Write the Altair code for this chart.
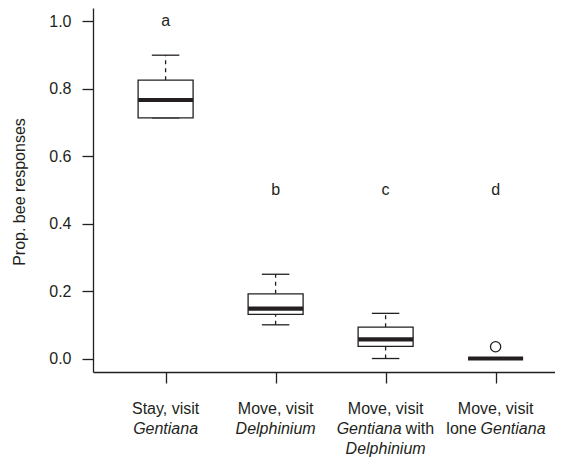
import altair as alt
import pandas as pd

# ---------------- data ----------------
positions = [1, 2, 3, 4]
whisker_low = [0.714, 0.100, 0.000, 0.000]
q1 = [0.714, 0.131, 0.036, 0.000]
median = [0.767, 0.148, 0.057, 0.000]
q3 = [0.826, 0.192, 0.093, 0.000]
whisker_high = [0.900, 0.250, 0.134, 0.000]

outlier_pos = [4]
outlier_val = [0.035]

letters = ["a", "b", "c", "d"]
letter_y = [1.0, 0.5, 0.5, 0.5]

y_ticks = [0.0, 0.2, 0.4, 0.6, 0.8, 1.0]

# x-axis label pieces (category, line, text, italic, anchor, pixel shift)
label_pos = [1, 1, 2, 2, 3, 3, 3, 3, 4, 4, 4]
label_line = [0, 1, 0, 1, 0, 1, 1, 2, 0, 1, 1]
label_text = ["Stay, visit", "Gentiana", "Move, visit", "Delphinium",
              "Move, visit", "Gentiana", "with", "Delphinium",
              "Move, visit", "lone", "Gentiana"]
label_italic = [False, True, False, True, False, True, False, True, False, False, True]
label_anchor = ["center", "center", "center", "center", "center", "right", "left",
                "center", "center", "right", "left"]
label_dx = [0, 0, 0, 0, 0, 16, 20, 0, 0, -19, -15]

INK = "#231f20"
FONT = "Liberation Sans"

boxes = pd.DataFrame({"pos": positions, "low": whisker_low, "q1": q1,
                      "med": median, "q3": q3, "high": whisker_high})
outs = pd.DataFrame({"pos": outlier_pos, "val": outlier_val})
lets = pd.DataFrame({"pos": positions, "letter": letters, "y": letter_y})
labs = pd.DataFrame({"pos": label_pos, "line": label_line, "text": label_text,
                     "italic": label_italic, "anchor": label_anchor, "dx": label_dx})

xscale = alt.Scale(domain=[0.34, 4.54], nice=False, zero=False)
yscale = alt.Scale(domain=[-0.04, 1.04], nice=False, zero=False)

base = alt.Chart(boxes).transform_calculate(
    xl="datum.pos - 0.25", xr="datum.pos + 0.25",
    cl="datum.pos - 0.125", cr="datum.pos + 0.125")

x_axis = alt.Axis(values=positions, labels=False, title=None, grid=False,
                  tickSize=11, domain=True, domainColor=INK, domainWidth=1.3,
                  tickColor=INK, tickWidth=1.3)
y_axis = alt.Axis(values=y_ticks, format=".1f", title="Prop. bee responses",
                  grid=False, tickSize=11, labelPadding=11,
                  labelFont=FONT, labelFontSize=16, labelColor=INK,
                  domainColor=INK, domainWidth=1.3, tickColor=INK, tickWidth=1.3,
                  titleFontSize=16, titleFontWeight="normal", titleFont=FONT,
                  titleColor=INK, titleAngle=-90, titleBaseline="alphabetic",
                  titleAlign="center", titleX=-69, titleY=183.5)

upper_whisker = base.mark_rule(color=INK, strokeWidth=1.3, strokeDash=[4, 4]).encode(
    x=alt.X("pos:Q", scale=xscale, axis=x_axis),
    y=alt.Y("q3:Q", scale=yscale, axis=y_axis),
    y2="high:Q")
lower_whisker = base.mark_rule(color=INK, strokeWidth=1.3, strokeDash=[4, 4]).encode(
    x=alt.X("pos:Q", scale=xscale), y=alt.Y("low:Q", scale=yscale), y2="q1:Q")
cap_hi = base.mark_rule(color=INK, strokeWidth=1.3).encode(
    x=alt.X("cl:Q", scale=xscale), x2="cr:Q", y=alt.Y("high:Q", scale=yscale))
cap_lo = base.mark_rule(color=INK, strokeWidth=1.3).encode(
    x=alt.X("cl:Q", scale=xscale), x2="cr:Q", y=alt.Y("low:Q", scale=yscale))
box = base.mark_rect(fill="white", stroke=INK, strokeWidth=1.3).encode(
    x=alt.X("xl:Q", scale=xscale), x2="xr:Q",
    y=alt.Y("q1:Q", scale=yscale), y2="q3:Q")
med = base.mark_rule(color=INK, strokeWidth=4.2).encode(
    x=alt.X("xl:Q", scale=xscale), x2="xr:Q", y=alt.Y("med:Q", scale=yscale))

outlier = alt.Chart(outs).mark_point(shape="circle", filled=False, size=105,
                                     color=INK, strokeWidth=1.3, opacity=1).encode(
    x=alt.X("pos:Q", scale=xscale), y=alt.Y("val:Q", scale=yscale))

letter_layer = alt.Chart(lets).mark_text(font=FONT, fontSize=16, color=INK,
                                         baseline="middle").encode(
    x=alt.X("pos:Q", scale=xscale), y=alt.Y("y:Q", scale=yscale), text="letter:N")

layers = [upper_whisker, lower_whisker, cap_hi, cap_lo, box, med, outlier, letter_layer]

combos = labs[["italic", "anchor", "dx", "line"]].drop_duplicates().itertuples(index=False)
for it, an, dx, ln in combos:
    sel = (f"datum.italic == {'true' if it else 'false'} && datum.anchor == '{an}'"
           f" && datum.dx == {dx} && datum.line == {ln}")
    layers.append(
        alt.Chart(labs).transform_filter(sel).mark_text(
            font=FONT, fontSize=16, color=INK, align=an, dx=int(dx),
            baseline="alphabetic", fontStyle="italic" if it else "normal",
            clip=False).encode(
            x=alt.X("pos:Q", scale=xscale),
            y=alt.value(405.5 + 20.4 * int(ln)),
            text="text:N")
    )

chart = alt.layer(*layers).properties(
    width=462, height=364,
    autosize=alt.AutoSizeParams(type="none"),
    padding={"left": 85, "top": 0, "right": 0, "bottom": 86},
    background="white",
).configure_view(strokeWidth=0, stroke="transparent")

chart.save("out.html", embed_options={"renderer": "svg", "actions": False})
